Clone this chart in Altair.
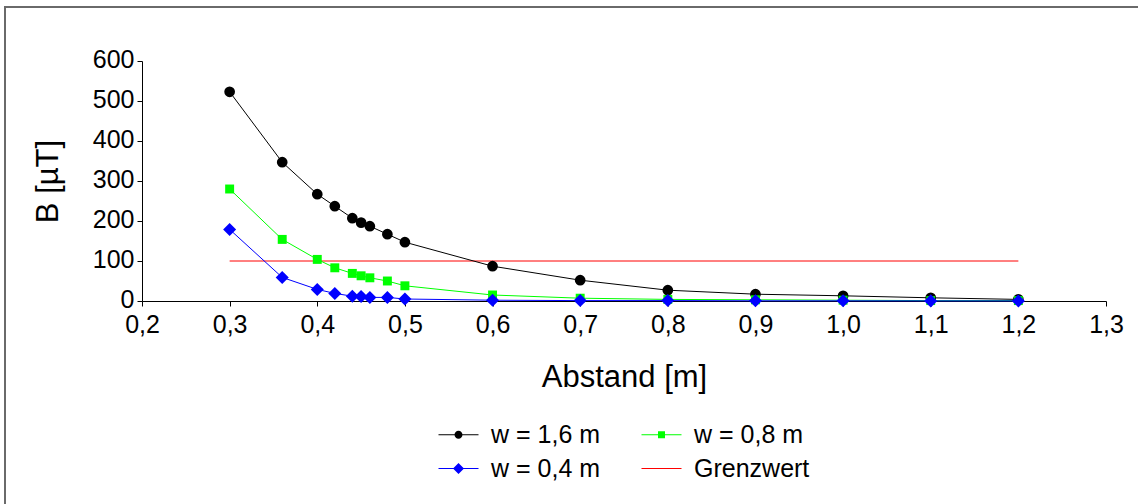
import altair as alt
import pandas as pd

# ---- data ----
abstand = [0.30, 0.36, 0.40, 0.42, 0.44, 0.45, 0.46, 0.48, 0.50, 0.60, 0.70, 0.80, 0.90, 1.00, 1.10, 1.20]
b_16 = [523, 347, 267, 237, 207, 196, 187, 167, 147, 87, 52, 27, 17, 13, 8, 4]
b_08 = [280, 154, 104, 83, 69, 63, 58, 50, 38, 15, 7, 4, 3, 2, 1, 1]
b_04 = [179, 59, 29, 19, 12, 11, 9, 9, 5, 2, 1, 1, 0.5, 0.4, 0.3, 0.2]
grenz_x = [0.30, 1.20]
grenz_y = [100, 100]

series_names = ["w = 1,6 m", "w = 0,8 m", "w = 0,4 m", "Grenzwert"]
series_colors = ["#000000", "#00FF00", "#0000FF", "#FF0000"]
x_ticks = [0.2, 0.3, 0.4, 0.5, 0.6, 0.7, 0.8, 0.9, 1.0, 1.1, 1.2, 1.3]
y_ticks = [0, 100, 200, 300, 400, 500, 600]

FONT = "Liberation Sans"

rows = []
for name, vals in zip(series_names[:3], [b_16, b_08, b_04]):
    for a, b in zip(abstand, vals):
        rows.append({"series": name, "x": a, "y": b})
for a, b in zip(grenz_x, grenz_y):
    rows.append({"series": "Grenzwert", "x": a, "y": b})
df = pd.DataFrame(rows)

legend_df = pd.DataFrame({"label": series_names, "x": [0.3] * 4, "y": [100] * 4})

xscale = alt.Scale(domain=[0.2, 1.3], nice=False, zero=False)
yscale = alt.Scale(domain=[0, 600], nice=False)
cscale = alt.Scale(domain=series_names, range=series_colors)

xaxis = alt.Axis(
    values=x_ticks, labelExpr="replace(format(datum.value, '.1f'), '.', ',')",
    title="Abstand [m]", grid=False, labelFont=FONT, labelFontSize=25, labelColor="black",
    titleFont=FONT, titleFontSize=31, titleFontWeight="normal", titleColor="black",
    titlePadding=25, labelPadding=6, tickSize=5, tickColor="black", domainColor="black",
    labelFlush=False, labelOverlap=False,
)
yaxis = alt.Axis(
    values=y_ticks, format="d", title="B [µT]", grid=False, labelFont=FONT, labelFontSize=25,
    labelColor="black", titleFont=FONT, titleFontSize=31, titleFontWeight="normal",
    titleColor="black", titlePadding=28, labelPadding=3, tickSize=5, tickColor="black",
    domainColor="black", labelFlush=False, labelBaseline="middle", labelOffset=-2,
)

X = alt.X("x:Q", scale=xscale, axis=xaxis)
Y = alt.Y("y:Q", scale=yscale, axis=yaxis)

base = alt.Chart(df)

# frame
frame = alt.Chart(pd.DataFrame({"a": [0]})).mark_rect(
    fill=None, stroke="#6a6a6a", strokeWidth=2
).encode(x=alt.value(-137), x2=alt.value(1040), y=alt.value(-54), y2=alt.value(480))

layers = [frame]
order = ["Grenzwert", "w = 1,6 m", "w = 0,8 m", "w = 0,4 m"]
for name in order:
    layers.append(
        base.transform_filter(alt.datum.series == name).mark_line(strokeWidth=1).encode(
            x=X, y=Y, color=alt.Color("series:N", scale=cscale, legend=None)
        )
    )

shape_scale = alt.Scale(domain=series_names[:3], range=["circle", "square", "diamond"])
marker_sizes = {"w = 1,6 m": 115, "w = 0,8 m": 80, "w = 0,4 m": 170}
for name in ["w = 1,6 m", "w = 0,8 m", "w = 0,4 m"]:
    layers.append(
        base.transform_filter(alt.datum.series == name)
        .mark_point(filled=True, opacity=1, strokeWidth=0, size=marker_sizes[name])
        .encode(
            x=X, y=Y,
            color=alt.Color("series:N", scale=cscale, legend=None),
            shape=alt.Shape("series:N", scale=shape_scale, legend=None),
        )
    )

line = "M-2,-0.05H2V0.05H-2Z"
p_circle = line + " M-0.4,0A0.4,0.4 0 1,1 0.4,0A0.4,0.4 0 1,1 -0.4,0Z"
p_square = line + " M-0.35,-0.35H0.35V0.35H-0.35Z"
p_diamond = line + " M0,-0.55L0.55,0L0,0.55L-0.55,0Z"

legend = alt.Legend(
    title=None, orient="none", legendX=304, legendY=361, direction="horizontal", columns=2,
    symbolSize=400, symbolOpacity=1, symbolStrokeWidth=0, labelFont=FONT, labelFontSize=25,
    labelColor="black", labelOffset=20, columnPadding=40, rowPadding=8,
)
legend_layer = alt.Chart(legend_df).mark_point(filled=True, opacity=0).encode(
    x=X, y=Y,
    color=alt.Color("label:N", scale=cscale, legend=legend),
    shape=alt.Shape("label:N", scale=alt.Scale(domain=series_names,
                    range=[p_circle, p_square, p_diamond, line]), legend=legend),
)
layers.append(legend_layer)

chart = alt.layer(*layers).resolve_scale(color="independent", shape="independent").properties(
    width=964, height=240,
    autosize=alt.AutoSizeParams(type="none"),
    padding={"left": 142, "top": 61, "right": 32, "bottom": 203},
    background="white",
).configure_view(stroke=None)

chart.save("out.html", embed_options={"renderer": "svg", "actions": False})
